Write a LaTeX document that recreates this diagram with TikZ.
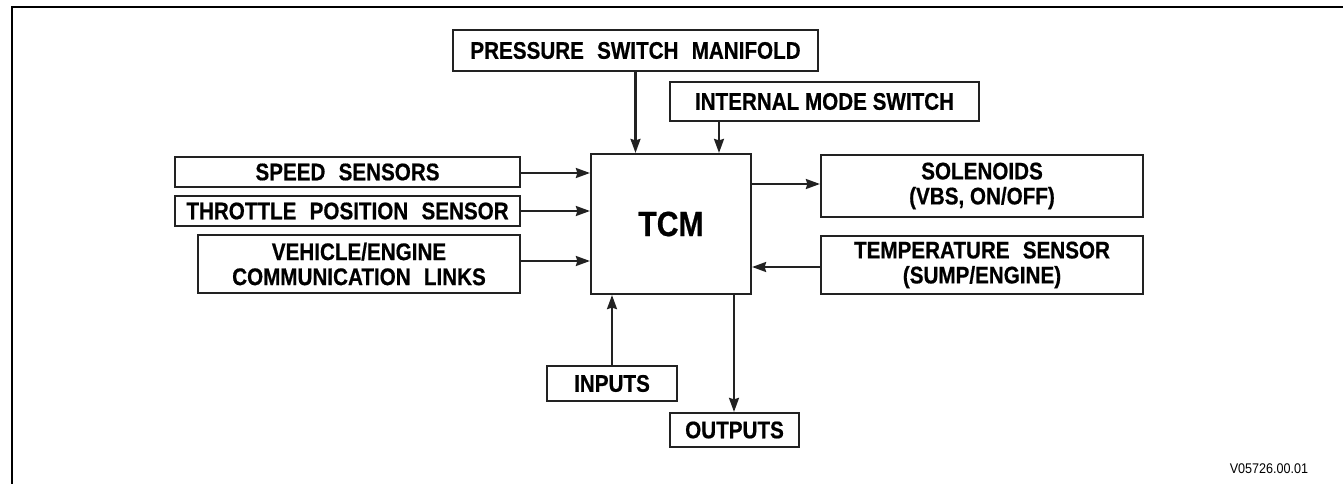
\documentclass[tikz,border=0pt]{standalone}
\usepackage{fontspec}
\setmainfont{Liberation Sans}
\newfontfamily\lblfont[FakeStretch=0.86,FakeBold=0.6]{Liberation Sans Bold}
\newfontfamily\refont[FakeStretch=0.9]{Liberation Sans}
\usetikzlibrary{arrows.meta,calc}
\definecolor{ink}{HTML}{222222}
\tikzset{
  blk/.style={draw=ink, line width=2.2pt, inner sep=0pt, align=center,
    font=\lblfont\fontsize{24}{25}\selectfont, text=black},
  arr/.style={draw=ink, line width=2.1pt, -{Stealth[length=14pt,width=10pt,inset=1.5pt]}},
}
\newcommand{\dsp}{\hspace{0.55em}}
\begin{document}
\begin{tikzpicture}[x=1pt,y=-1pt]
\useasboundingbox (0,0) rectangle (1343,484);
\draw[line width=2.6pt, black] (1343,7) -- (12,7) -- (12,484);

\node[blk, minimum width=365, minimum height=41] (psm) at (635.5,50.5) {PRESSURE\dsp SWITCH\dsp MANIFOLD};
\node[blk, minimum width=309, minimum height=39] (ims) at (824.5,101.5) {INTERNAL MODE SWITCH};
\node[blk, minimum width=160, minimum height=140, font=\lblfont\fontsize{35}{36}\selectfont] (tcm) at (671,224) {TCM};
\node[blk, minimum width=345, minimum height=30] (spd) at (347.5,172) {SPEED\dsp SENSORS};
\node[blk, minimum width=345, minimum height=30] (tps) at (347.5,211) {THROTTLE\dsp POSITION\dsp SENSOR};
\node[blk, minimum width=322, minimum height=58] (veh) at (359,264) {VEHICLE/ENGINE\\COMMUNICATION\dsp LINKS};
\node[blk, minimum width=322, minimum height=62] (sol) at (982,186) {SOLENOIDS\\(VBS, ON/OFF)};
\node[blk, minimum width=322, minimum height=58] (tmp) at (982,265) {TEMPERATURE\dsp SENSOR\\(SUMP/ENGINE)};
\node[blk, minimum width=130, minimum height=35] (inp) at (612,383.5) {INPUTS};
\node[blk, minimum width=129, minimum height=34] (out) at (734.5,430) {OUTPUTS};
\node[font=\refont\fontsize{14}{16}\selectfont, inner sep=0pt] (ref) at (1269,469) {V05726.00.01};

\draw[arr] (psm.south) -- (psm.south |- tcm.north);
\draw[arr] (719,0 |- ims.south) -- (719,0 |- tcm.north);
\draw[arr] (spd.east |- 0,173) -- (tcm.west |- 0,173);
\draw[arr] (tps.east) -- (tcm.west |- tps.east);
\draw[arr] (veh.east |- 0,261) -- (tcm.west |- 0,261);
\draw[arr] (tcm.east |- 0,184) -- (sol.west |- 0,184);
\draw[arr] (tmp.west |- 0,267) -- (tcm.east |- 0,267);
\draw[arr] (inp.north) -- (inp.north |- tcm.south);
\draw[arr] (734,0 |- tcm.south) -- (734,0 |- out.north);
\end{tikzpicture}
\end{document}
